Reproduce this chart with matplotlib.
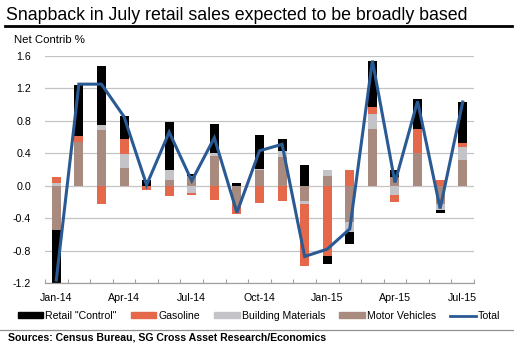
import matplotlib
matplotlib.use("Agg")
import matplotlib.pyplot as plt
from matplotlib.patches import Patch
from matplotlib.lines import Line2D
import numpy as np

plt.rcParams['font.family'] = ['Liberation Sans', 'DejaVu Sans']

months = ['Jan-14', 'Feb-14', 'Mar-14', 'Apr-14', 'May-14', 'Jun-14', 'Jul-14',
          'Aug-14', 'Sep-14', 'Oct-14', 'Nov-14', 'Dec-14', 'Jan-15', 'Feb-15',
          'Mar-15', 'Apr-15', 'May-15', 'Jun-15', 'Jul-15']

motor_vehicles = [-0.54, 0.54, 0.68, 0.22, 0.00, 0.07, 0.12, 0.37, -0.24, 0.19,
                  0.35, -0.19, 0.12, -0.44, 0.70, 0.11, 0.40, -0.22, 0.32]
building_materials = [0.03, 0.00, 0.07, 0.17, 0.00, 0.12, -0.09, 0.03, 0.00, 0.02,
                      0.08, -0.04, 0.08, -0.13, 0.18, -0.11, -0.02, -0.08, 0.16]
gasoline = [0.08, 0.07, -0.22, 0.18, -0.05, -0.13, -0.02, -0.17, -0.11, -0.21,
            -0.19, -0.76, -0.87, 0.20, 0.09, -0.09, 0.30, 0.07, 0.04]
retail_control = [-0.67, 0.63, 0.72, 0.29, 0.07, 0.60, 0.03, 0.36, 0.03, 0.41,
                  0.14, 0.25, -0.09, -0.15, 0.56, 0.09, 0.37, -0.03, 0.51]
total = [-1.16, 1.25, 1.25, 0.85, 0.01, 0.66, 0.06, 0.59, -0.33, 0.43,
         0.51, -0.87, -0.78, -0.53, 1.54, 0.04, 1.04, -0.28, 1.03]

label_months = ['Jan-14', 'Apr-14', 'Jul-14', 'Oct-14', 'Jan-15', 'Apr-15', 'Jul-15']
y_ticks = [-1.2, -0.8, -0.4, 0.0, 0.4, 0.8, 1.2, 1.6]

c_control = '#000000'
c_gas = '#E5684A'
c_build = '#C3C3C8'
c_motor = '#A88A7E'
c_total = '#2A5A94'

W, H = 514, 344
fig = plt.figure(figsize=(W / 100, H / 100), dpi=100)

# Title with rule beneath
fig.text(6 / W, 1 - 16 / H, 'Snapback in July retail sales expected to be broadly based',
         fontsize=12.8, ha='left', va='center', color='black')
fig.add_artist(Line2D([5 / W, 512 / W], [1 - 25.5 / H, 1 - 25.5 / H],
                      color='black', lw=2.0, transform=fig.transFigure))
fig.text(14 / W, 1 - 40 / H, 'Net Contrib %', fontsize=8.2, ha='left', va='center')

ax = fig.add_axes([45 / W, 1 - 283.3 / H, (474 - 45) / W, (283.3 - 55.7) / H])

x = np.arange(len(months))
bw = 0.4
series = [(motor_vehicles, c_motor), (building_materials, c_build),
          (gasoline, c_gas), (retail_control, c_control)]
pos_base = np.zeros(len(months))
neg_base = np.zeros(len(months))
for vals, col in series:
    v = np.array(vals, dtype=float)
    bottoms = np.where(v >= 0, pos_base, neg_base)
    ax.bar(x, v, bw, bottom=bottoms, color=col, zorder=2, linewidth=0)
    pos_base = pos_base + np.where(v >= 0, v, 0)
    neg_base = neg_base + np.where(v < 0, v, 0)

ax.plot(x, total, color=c_total, lw=2.2, zorder=3, solid_joinstyle='miter')

ax.set_xlim(-0.5, len(months) - 0.5)
ax.set_ylim(-1.2, 1.6)
ax.set_yticks(y_ticks)
ax.set_yticklabels([f'{t:.1f}' for t in y_ticks], fontsize=7.7)
ax.grid(axis='y', color='#C4C4C4', lw=0.9, zorder=0)
ax.set_axisbelow(True)

ax.set_xticks([months.index(m) for m in label_months])
ax.set_xticklabels(label_months, fontsize=7.7)
ax.set_xticks(np.arange(len(months) + 1) - 0.5, minor=True)
ax.tick_params(axis='x', which='major', length=0, pad=7)
ax.tick_params(axis='x', which='minor', length=3, color='#A0A0A0', width=0.8, direction='in')
ax.tick_params(axis='y', length=0, pad=10)

for s in ['top', 'right', 'left']:
    ax.spines[s].set_visible(False)
ax.spines['bottom'].set_color('#A0A0A0')
ax.spines['bottom'].set_linewidth(0.9)

handles = [Patch(color=c_control), Patch(color=c_gas), Patch(color=c_build),
           Patch(color=c_motor), Line2D([], [], color=c_total, lw=2.0)]
labels = ['Retail "Control"', 'Gasoline', 'Building Materials', 'Motor Vehicles', 'Total']
fig.legend(handles, labels, loc='center', bbox_to_anchor=(259 / W, 1 - 316 / H),
           ncol=5, frameon=False, fontsize=7.6, handlelength=2.4, handleheight=0.5,
           handletextpad=0.2, columnspacing=1.35, borderaxespad=0, borderpad=0)

fig.add_artist(Line2D([0, 1], [1 - 329.5 / H, 1 - 329.5 / H],
                      color='#909090', lw=0.9, transform=fig.transFigure))
fig.text(8 / W, 1 - 338 / H, 'Sources: Census Bureau, SG Cross Asset Research/Economics',
         fontsize=7.6, fontweight='bold', ha='left', va='center')

fig.savefig('out.png', dpi=100)
